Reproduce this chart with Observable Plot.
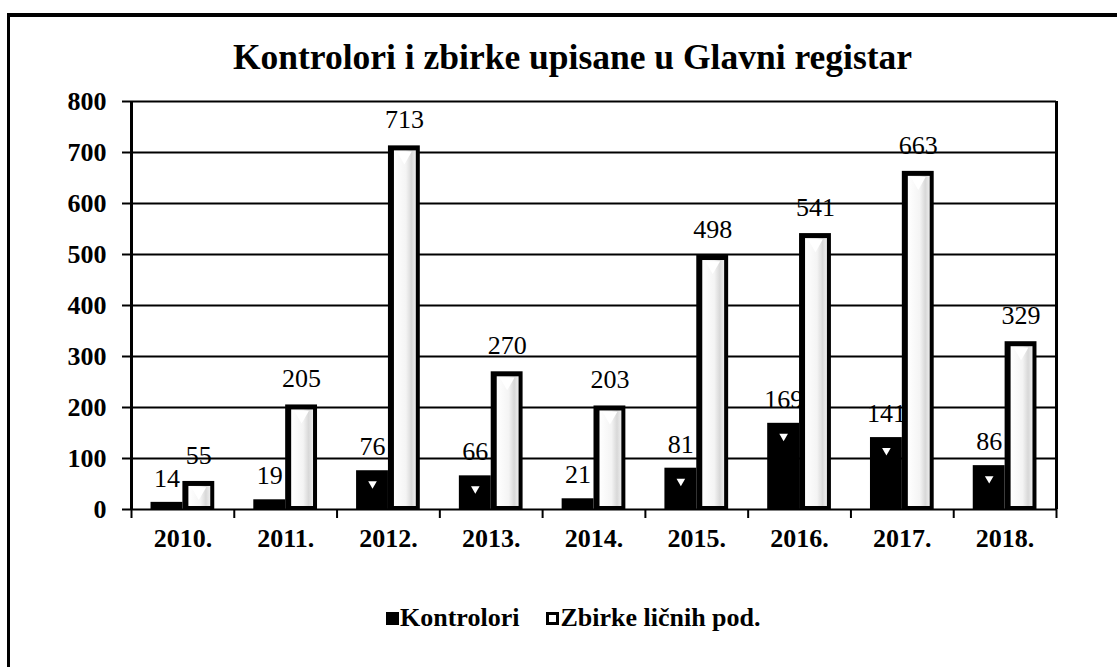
<!DOCTYPE html>
<html><head><meta charset="utf-8">
<script src="https://cdn.jsdelivr.net/npm/d3@7"></script>
<script src="https://cdn.jsdelivr.net/npm/@observablehq/plot@0.6"></script>
<style>
body{margin:0;background:#fff;font-family:"Liberation Serif",serif;width:1117px;height:667px;overflow:hidden;position:relative;}
#frame{position:absolute;left:7px;top:13px;width:1200px;height:700px;border-left:3px solid #000;border-top:4px solid #000;}
#title{position:absolute;top:35px;left:0;width:1145px;text-align:center;font-family:"Liberation Serif",serif;font-weight:bold;font-size:35.5px;line-height:44px;}
#chart{position:absolute;left:0;top:80px;}
#legend{position:absolute;left:386px;top:603px;font-family:"Liberation Serif",serif;font-weight:bold;font-size:26px;line-height:30px;display:flex;align-items:center;}
.sw{display:inline-block;width:13px;height:13px;box-sizing:border-box;margin-right:1px;}
</style></head><body>
<div id="frame"></div>
<div id="title">Kontrolori i zbirke upisane u Glavni registar</div>
<div id="chart"></div>
<div id="legend"></div>
<script>
const years = [2010, 2011, 2012, 2013, 2014, 2015, 2016, 2017, 2018];
const yearLabels = ["2010.", "2011.", "2012.", "2013.", "2014.", "2015.", "2016.", "2017.", "2018."];
const kontrolori = [14, 19, 76, 66, 21, 81, 169, 141, 86];
const zbirke = [55, 205, 713, 270, 203, 498, 541, 663, 329];
const yTicks = [0, 100, 200, 300, 400, 500, 600, 700, 800];
const seriesNames = ["Kontrolori", "Zbirke ličnih pod."];

const K = years.map((year, i) => ({year, value: kontrolori[i]}));
const Z = years.map((year, i) => ({year, value: zbirke[i]}));
const bounds = [...years.map(y => y - 0.5), years[years.length - 1] + 0.5];
const w = 0.31;

const svg = Plot.plot({
  width: 1117, height: 480,
  marginTop: 21, marginBottom: 51, marginLeft: 131, marginRight: 61,
  style: {fontFamily: "Liberation Serif, serif", background: "transparent", overflow: "visible", color: "#000"},
  x: {domain: [bounds[0], bounds[bounds.length - 1]]},
  y: {domain: [0, 800]},
  marks: [
    Plot.ruleY(yTicks, {stroke: "#000", strokeWidth: 2}),
    Plot.ruleX([bounds[0], bounds[bounds.length - 1]], {stroke: "#000", strokeWidth: 3}),
    Plot.axisY({ticks: yTicks, tickSize: 9, tickPadding: 16, fontSize: 26, fontWeight: "bold", strokeWidth: 2, label: null}),
    Plot.axisX({ticks: bounds, tickSize: 9, strokeWidth: 2, tickFormat: () => "", label: null}),
    Plot.axisX({ticks: years, tickSize: 0, tickPadding: 19, fontSize: 26, fontWeight: "bold", label: null,
      tickFormat: d => yearLabels[years.indexOf(d)]}),
    Plot.rect(K, {x1: d => d.year - w, x2: "year", y1: 0, y2: "value", fill: "#000"}),
    Plot.dot(K.filter(d => d.value > 50), {x: d => d.year - w / 2, y: "value", symbol: "triangle", rotate: 180, r: 3.2, fill: "#fff", dy: 13}),
    Plot.rect(Z, {x1: "year", x2: d => d.year + w, y1: 0, y2: "value", fill: "#000"}),
    Plot.rect(Z, {x1: "year", x2: d => d.year + w, y1: 0, y2: "value", fill: "url(#zgrad)", insetLeft: 6, insetRight: 4, insetTop: 5, insetBottom: 3}),
    Plot.dot(Z, {x: d => d.year + w / 2, y: "value", symbol: "triangle", rotate: 180, r: 5.5, fill: "#fff", dy: 10}),
    Plot.text(K, {x: d => d.year - w / 2, y: "value", text: d => String(d.value), dy: -24, fontSize: 26, fill: "#000"}),
    Plot.text(Z, {x: d => d.year + w / 2, y: "value", text: d => String(d.value), dy: -26, fontSize: 26, fill: "#000"})
  ]
});
const defs = d3.select(svg).insert("defs", ":first-child");
const g = defs.append("linearGradient").attr("id", "zgrad").attr("x1", "0").attr("x2", "1").attr("y1", "0").attr("y2", "0");
g.append("stop").attr("offset", "0%").attr("stop-color", "#ffffff");
g.append("stop").attr("offset", "55%").attr("stop-color", "#f4f4f4");
g.append("stop").attr("offset", "80%").attr("stop-color", "#d8d8d8");
g.append("stop").attr("offset", "100%").attr("stop-color", "#eeeeee");
document.getElementById("chart").appendChild(svg);

const leg = d3.select("#legend");
const it1 = leg.append("span").style("display", "flex").style("align-items", "center").style("margin-right", "27px");
it1.append("span").attr("class", "sw").style("background", "#000");
it1.append("span").text(seriesNames[0]);
const it2 = leg.append("span").style("display", "flex").style("align-items", "center");
it2.append("span").attr("class", "sw").style("background", "#fff").style("border", "3px solid #000");
it2.append("span").text(seriesNames[1]);
</script>
</body></html>
